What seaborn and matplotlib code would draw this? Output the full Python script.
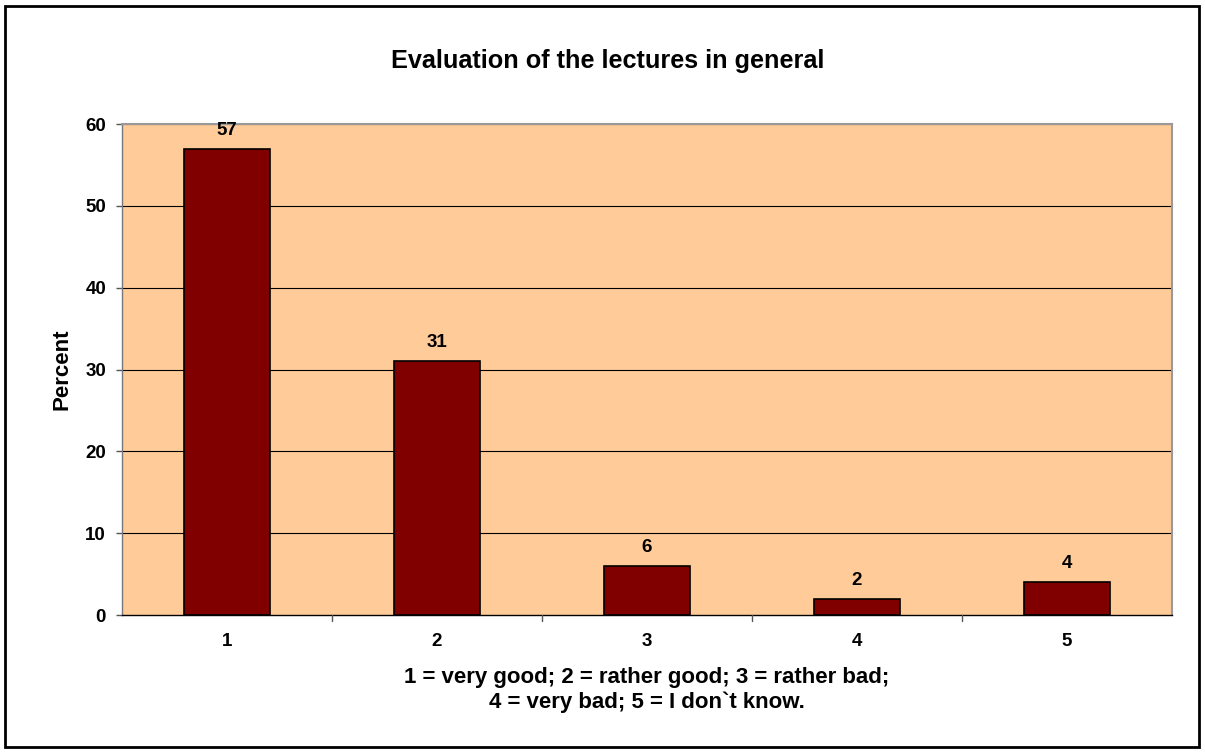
import matplotlib
matplotlib.use("Agg")
import matplotlib.pyplot as plt
import seaborn as sns
import pandas as pd
from matplotlib.patches import Rectangle

categories = ["1", "2", "3", "4", "5"]
values = [57, 31, 6, 2, 4]
yticks = [0, 10, 20, 30, 40, 50, 60]
title = "Evaluation of the lectures in general"
xlabel = "1 = very good; 2 = rather good; 3 = rather bad;\n4 = very bad; 5 = I don`t know."
ylabel = "Percent"

sns.set_style("white")
plt.rcParams["font.family"] = ["Liberation Sans", "DejaVu Sans"]
plt.rcParams["text.color"] = "black"
plt.rcParams["axes.labelcolor"] = "black"
plt.rcParams["xtick.color"] = "black"
plt.rcParams["ytick.color"] = "black"

df = pd.DataFrame({"cat": categories, "val": values})

fig = plt.figure(figsize=(12.05, 7.53), dpi=100)
ax = fig.add_axes([122/1205, 1-615/753, (1172-122)/1205, (615-124)/753])
ax.set_facecolor("#FFCC99")

sns.barplot(data=df, x="cat", y="val", color="#800000", edgecolor="black",
            linewidth=1.2, width=0.405, saturation=1, ax=ax, zorder=3)

ax.set_ylim(0, 60)
ax.set_xlim(-0.5, 4.5)
ax.set_yticks(yticks)
ax.set_yticklabels([str(t) for t in yticks], fontsize=13.5, fontweight="bold")
ax.set_xticks(range(len(categories)))
ax.set_xticklabels(categories, fontsize=13.5, fontweight="bold")
ax.tick_params(axis="x", length=0, pad=13)
ax.tick_params(axis="y", length=4.5, width=1, color="#555555", pad=7, left=True)
# boundary ticks on x axis
for b in [0.5, 1.5, 2.5, 3.5]:
    ax.plot([b, b], [0, -0.75], color="#555555", lw=1, clip_on=False, zorder=4)

for y in yticks[1:]:
    ax.axhline(y, color="black", lw=0.8, zorder=1)

for s in ["top", "right"]:
    ax.spines[s].set_color("#999999")
    ax.spines[s].set_linewidth(1.5)
ax.spines["left"].set_color("#777777")
ax.spines["bottom"].set_color("black")
ax.spines["left"].set_linewidth(1)
ax.spines["bottom"].set_linewidth(1)

for i, v in enumerate(values):
    ax.annotate(str(v), (i, v), xytext=(0, 10), textcoords="offset points",
                ha="center", va="baseline", fontsize=13.5, fontweight="bold")

ax.set_xlabel(xlabel, fontsize=16, fontweight="bold", linespacing=1.25)
ax.xaxis.set_label_coords(0.5, -0.105)
ax.set_ylabel(ylabel, fontsize=16, fontweight="bold")
ax.yaxis.set_label_coords(-0.047, 0.5)

fig.text(608/1205, 1-68/753, title, ha="center", va="baseline", fontsize=18.2, fontweight="bold")

fig.patches.append(Rectangle((5/1205, 6/753), 1194/1205, 741/753, transform=fig.transFigure,
                             fill=False, edgecolor="black", linewidth=2))

fig.savefig("out.png", dpi=100)
